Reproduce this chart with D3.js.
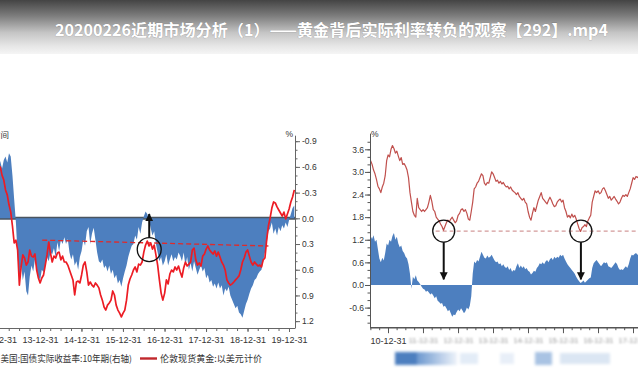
<!DOCTYPE html>
<html><head><meta charset="utf-8">
<script src="https://cdn.jsdelivr.net/npm/d3@7"></script>
<style>
html,body{margin:0;padding:0;background:#fff;}
svg{display:block;}
</style></head><body>
<svg id="c" width="638" height="377"></svg>
<script>
const titleText = "20200226近期市场分析（1）——黄金背后实际利率转负的观察【292】.mp4";

// ---------- Left chart: gold (left, hidden axis) vs US 10y real yield (right axis, inverted) ----------
const leftStart = 2012.875;           // decimal year of first sample (half-month steps)
const leftStep = 1 / 24;
const leftGold = [
1715,1700,1675,1695,1690,1655,1635,1593,1572,1530,
1500,1440,1368,1380,1338,1189,1266,1317,1304,1274,
1287,1338,1312,1308,1321,1253,1219,1198,1219,1232,
1274,1317,1372,1325,1287,1312,1304,1325,1329,1296,
1312,1287,1287,1274,1253,1232,1211,1147,1202,1206,
1198,1232,1274,1287,1245,1189,1202,1189,1181,1198,
1189,1177,1147,1125,1096,1083,1104,1113,1125,1164,
1147,1104,1083,1070,1054,1070,1083,1125,1189,1215,
1232,1253,1266,1245,1278,1274,1287,1329,1359,1376,
1355,1368,1342,1359,1317,1274,1211,1155,1125,1155,
1211,1194,1236,1253,1245,1266,1253,1270,1245,1223,
1262,1287,1270,1278,1287,1338,1346,1296,1274,1283,
1270,1312,1321,1342,1355,1338,1329,1321,1334,1312,
1329,1308,1287,1274,1253,1211,1198,1189,1194,1202,
1211,1219,1228,1253,1287,1304,1329,1338,1312,1287,
1274,1287,1278,1270,1274,1266,1296,1304,1380,1440,
1474,1516,1542,1538,1521,1508,1495,1482,1499,1470,
1491,1512,1542,1563,1593];
const leftReal = [
-0.62,-0.68,-0.6,-0.7,-0.66,-0.58,-0.68,-0.72,-0.65,-0.76,
-0.72,-0.5,-0.22,0.05,0.45,0.7,0.55,0.72,0.62,0.85,
0.9,0.68,0.55,0.62,0.48,0.6,0.68,0.72,0.6,0.63,
0.55,0.45,0.5,0.4,0.42,0.35,0.45,0.28,0.38,0.25,
0.3,0.22,0.3,0.24,0.4,0.48,0.42,0.55,0.5,0.6,
0.45,0.38,0.25,0.32,0.15,0.1,0.3,0.18,0.11,0.25,
0.4,0.5,0.52,0.48,0.58,0.55,0.62,0.55,0.65,0.6,
0.7,0.66,0.76,0.72,0.8,0.7,0.62,0.55,0.45,0.38,
0.32,0.3,0.2,0.25,0.1,0.18,0.05,-0.02,-0.08,-0.05,
0.02,0.12,0.2,0.15,0.3,0.4,0.5,0.45,0.55,0.5,
0.42,0.55,0.48,0.42,0.5,0.45,0.48,0.4,0.44,0.5,
0.4,0.55,0.45,0.6,0.52,0.62,0.5,0.58,0.66,0.6,
0.55,0.62,0.58,0.7,0.66,0.75,0.72,0.8,0.76,0.82,
0.75,0.82,0.78,0.9,0.82,0.85,0.8,0.9,0.95,1.0,
1.05,1.02,1.1,1.12,1.16,1.08,1.0,0.95,0.88,0.82,
0.78,0.72,0.7,0.65,0.62,0.6,0.5,0.4,0.3,0.15,
0.12,0.05,0.18,0.12,0.2,0.1,0.15,0.08,0.12,0.05,
0.1,0.02,-0.05,-0.12,-0.15];
const leftYears = [2012,2013,2014,2015,2016,2017,2018,2019];     // tick at each Dec 31
const leftYieldTicks = [-0.9,-0.6,-0.3,0,0.3,0.6,0.9,1.2];
const leftLegend = ["美国:国债实际收益率:10年期(右轴)", "伦敦现货黄金:以美元计价"];
const leftCornerLabel = "时间";
const leftResistance = [[2014.05,1380],[2019.5,1355]];          // dashed line (gold level)
const leftMark = {year:2016.63, gold:1340, arrowTo:-0.05};

// ---------- Right chart: US 10y nominal yield vs real yield ----------
const rightStart = 2010.5;
const rightStep = 1 / 24;
const rightNominal = [
3.3,3.2,3.05,2.95,2.8,2.62,2.55,2.45,2.6,2.7,
2.9,3.3,3.45,3.4,3.6,3.7,3.62,3.5,3.55,3.42,
3.3,3.38,3.2,3.22,3.15,3.05,2.85,2.45,2.2,1.95,
1.85,1.8,2.3,2.05,2.0,1.95,2.0,1.95,2.0,2.05,
2.2,2.38,2.22,2.0,1.95,1.8,1.75,1.7,1.62,1.55,
1.45,1.55,1.65,1.72,1.68,1.75,1.8,1.72,1.65,1.7,
1.85,1.9,2.0,2.02,1.95,2.0,1.9,1.75,1.72,1.95,
2.2,2.55,2.6,2.7,2.75,2.85,2.95,2.9,2.7,2.65,
2.72,2.7,2.85,3.0,2.95,2.85,2.75,2.78,2.7,2.75,
2.68,2.72,2.65,2.6,2.62,2.55,2.6,2.52,2.48,2.45,
2.4,2.45,2.35,2.3,2.25,2.3,2.2,2.15,1.95,1.8,
1.72,1.9,2.05,1.95,2.1,2.25,2.35,2.45,2.3,2.25,
2.2,2.15,2.25,2.33,2.25,2.15,2.08,2.1,2.2,2.25,
2.28,2.2,2.25,2.05,1.95,1.8,1.85,1.78,1.88,1.8,
1.85,1.75,1.62,1.5,1.42,1.52,1.55,1.6,1.55,1.7,
1.78,1.85,2.2,2.35,2.5,2.45,2.5,2.42,2.45,2.55,
2.58,2.5,2.4,2.3,2.35,2.25,2.3,2.35,2.28,2.22,
2.15,2.2,2.3,2.38,2.35,2.4,2.35,2.45,2.55,2.7,
2.85,2.8,2.88,2.85,2.9];
const rightReal = [
1.3,1.22,1.32,1.15,1.2,0.95,0.7,0.6,0.72,0.65,
0.85,1.1,1.05,1.2,1.15,1.3,1.38,1.2,1.28,1.1,
1.0,1.05,0.9,0.85,0.75,0.7,0.55,0.3,-0.1,0.22,
0.15,0.26,0.12,0.08,0.02,-0.05,-0.1,-0.12,-0.18,-0.15,
-0.2,-0.25,-0.22,-0.28,-0.35,-0.3,-0.42,-0.45,-0.5,-0.48,
-0.58,-0.55,-0.62,-0.7,-0.66,-0.75,-0.84,-0.78,-0.8,-0.72,
-0.65,-0.7,-0.62,-0.68,-0.75,-0.7,-0.6,-0.65,-0.55,-0.3,
0.3,0.62,0.58,0.66,0.62,0.75,0.88,0.8,0.72,0.7,
0.78,0.72,0.75,0.8,0.72,0.65,0.6,0.62,0.55,0.58,
0.5,0.55,0.48,0.45,0.5,0.4,0.45,0.35,0.4,0.38,
0.5,0.58,0.45,0.52,0.45,0.5,0.42,0.45,0.38,0.35,
0.28,0.32,0.38,0.35,0.45,0.5,0.58,0.55,0.6,0.55,
0.62,0.66,0.6,0.68,0.72,0.66,0.75,0.7,0.75,0.72,
0.8,0.76,0.8,0.7,0.62,0.55,0.5,0.45,0.4,0.35,
0.3,0.22,0.15,0.1,0.05,0.08,0.12,0.06,0.1,0.14,
0.18,0.2,0.45,0.58,0.62,0.66,0.6,0.55,0.5,0.55,
0.6,0.58,0.6,0.5,0.48,0.45,0.5,0.55,0.6,0.55,
0.45,0.4,0.42,0.4,0.45,0.5,0.45,0.55,0.7,0.8,
0.78,0.82,0.85,0.8,0.82];
const rightYears = [2010,2011,2012,2013,2014,2015,2016,2017];
const rightYieldTicks = [3.6,3.0,2.4,1.8,1.2,0.6,0.0,-0.6];
const rightFloor = {value:1.43, from:2012.36, to:2018.3};
const rightMarks = [{year:2012.59, value:1.43, arrowTo:0.15},{year:2016.51, value:1.43, arrowTo:0.15}];

// ---------- helpers ----------
const decToDate = y => { const yr = Math.floor(y); return new Date(Date.UTC(yr,0,1) + (y-yr)*365.25*864e5); };
const yearEnd = y => new Date(Date.UTC(y,11,31));
const fmt = d3.utcFormat("%y-%m-%d");
const fmtNum = d => d.toFixed(1);   // plain hyphen minus, like the reference

const BLUE = "#4d7fbf";
const svg = d3.select("#c");
const defs = svg.append("defs");
const tg = defs.append("linearGradient").attr("id","topg").attr("x1",0).attr("y1",0).attr("x2",0).attr("y2",1);
[[0,"#444"],[0.3,"#7e7e7e"],[0.6,"#c4c4c4"],[0.85,"#e6e6e6"],[1,"#f5f5f5"]]
  .forEach(([o,c]) => tg.append("stop").attr("offset",o).attr("stop-color",c));
defs.append("filter").attr("id","soft").attr("x","-10%").attr("y","-50%").attr("width","120%").attr("height","200%")
  .append("feGaussianBlur").attr("stdDeviation",0.8);
defs.append("filter").attr("id","blurL").attr("x","-10%").attr("y","-50%").attr("width","120%").attr("height","200%")
  .append("feGaussianBlur").attr("stdDeviation",1.6);
defs.append("marker").attr("id","ah").attr("viewBox","0 0 10 10").attr("refX",9).attr("refY",5)
  .attr("markerUnits","userSpaceOnUse").attr("markerWidth",8).attr("markerHeight",9).attr("orient","auto")
  .append("path").attr("d","M0,0 L10,5 L0,10 z").attr("fill","#111");
defs.append("clipPath").attr("id","clipL").append("rect").attr("x",0).attr("y",128).attr("width",295).attr("height",200);
defs.append("clipPath").attr("id","clipR").append("rect").attr("x",370).attr("y",128).attr("width",268).attr("height",200);

svg.append("rect").attr("width",638).attr("height",377).attr("fill","#fff");
svg.append("rect").attr("width",638).attr("height",54).attr("fill","url(#topg)");
svg.append("text").attr("x",55).attr("y",36).attr("textLength",553).attr("lengthAdjust","spacingAndGlyphs")
  .attr("font-family","'Noto Sans CJK SC', sans-serif").attr("font-weight","bold").attr("font-size",16)
  .attr("fill","#fff").attr("stroke","rgba(90,90,90,0.45)").attr("stroke-width",0.6).attr("paint-order","stroke")
  .text(titleText);

const AXF = "'Liberation Sans', Arial, sans-serif";
const CJK = "'Noto Sans CJK SC', sans-serif";

// ================= LEFT CHART =================
const xL = d3.scaleUtc().domain([yearEnd(2012), yearEnd(2019)]).range([-1.5, 289]);
const yL = d3.scaleLinear().domain([-0.97, 1.28]).range([135.2, 328.0]);   // inverted real-yield axis
const gL = d3.scaleLinear().domain([1000, 1800]).range([329.6, 141.2]);    // gold (hidden axis)
const leftData = leftGold.map((g,i) => ({d: decToDate(leftStart + i*leftStep), g, r: leftReal[i]}));

const gLeft = svg.append("g").attr("clip-path","url(#clipL)");
gLeft.append("line").attr("x1",0).attr("x2",295).attr("y1",yL(0)).attr("y2",yL(0))
  .attr("stroke","#4a5560").attr("stroke-width",3);
gLeft.append("path").datum(leftData)
  .attr("d", d3.area().x(d=>xL(d.d)).y0(yL(0)).y1(d=>yL(d.r)))
  .attr("fill",BLUE);
gLeft.append("path").datum(leftResistance)
  .attr("d", d3.line().x(d=>xL(decToDate(d[0]))).y(d=>gL(d[1])))
  .attr("fill","none").attr("stroke","#e02a2a").attr("stroke-width",1.3).attr("stroke-dasharray","5,3");
gLeft.append("path").datum(leftData)
  .attr("d", d3.line().x(d=>xL(d.d)).y(d=>gL(d.g)))
  .attr("fill","none").attr("stroke","#ec1c24").attr("stroke-width",1.7).attr("stroke-linejoin","round");

// annotation: circle + up arrow
{
  const cx = xL(decToDate(leftMark.year)), cy = gL(leftMark.gold), r = 12;
  svg.append("circle").attr("cx",cx).attr("cy",cy).attr("r",r).attr("fill","none").attr("stroke","#111").attr("stroke-width",1.3);
  svg.append("line").attr("x1",cx).attr("x2",cx).attr("y1",cy-r).attr("y2",yL(leftMark.arrowTo))
    .attr("stroke","#111").attr("stroke-width",2).attr("marker-end","url(#ah)");
}

// bottom axis
const axL = svg.append("g").attr("transform","translate(0,328)");
axL.call(d3.axisBottom(xL).tickValues(leftYears.map(yearEnd)).tickFormat(fmt).tickSize(4).tickSizeOuter(0))
axL.append("g").call(d3.axisBottom(xL)
   .tickValues(d3.utcMonth.every(3).range(new Date(Date.UTC(2012,9,1)), new Date(Date.UTC(2020,2,1))).map(d=>d3.utcDay.offset(d,-1)))
   .tickFormat("").tickSize(3).tickSizeOuter(0)).select(".domain").remove();
axL.selectAll("text").attr("font-family",AXF).attr("font-size",9).attr("fill","#333").attr("dy","0.9em");
axL.selectAll("line,path").attr("stroke","#666");
axL.select(".domain").attr("d","M0,0.5H295");

// right axis (real yield)
const ayL = svg.append("g").attr("transform","translate(295,0)");
ayL.call(d3.axisRight(yL).tickValues(leftYieldTicks).tickFormat(fmtNum).tickSize(5).tickSizeOuter(0));
ayL.append("g").call(d3.axisRight(yL).tickValues(d3.range(-9,13).map(v=>v/10)).tickFormat("").tickSize(2.5).tickSizeOuter(0))
   .select(".domain").remove();
ayL.selectAll("text").attr("font-family",AXF).attr("font-size",8.5).attr("fill","#333").attr("x",7);
ayL.selectAll("line,path").attr("stroke","#666");
svg.append("text").attr("x",293).attr("y",137).attr("text-anchor","end").attr("font-family",AXF).attr("font-size",8.5).attr("fill","#333").text("%");
svg.append("text").attr("x",9).attr("y",138).attr("text-anchor","end").attr("font-family",CJK).attr("font-size",8.5).attr("fill","#333").text(leftCornerLabel);

// legend
svg.append("text").attr("x",0.5).attr("y",362).attr("textLength",131.5).attr("lengthAdjust","spacingAndGlyphs")
  .attr("font-family",CJK).attr("font-size",9.2).attr("fill","#333").text(leftLegend[0]);
svg.append("line").attr("x1",140).attr("x2",157).attr("y1",358.5).attr("y2",358.5).attr("stroke","#c0282c").attr("stroke-width",2.4);
svg.append("text").attr("x",160).attr("y",362).attr("textLength",102).attr("lengthAdjust","spacingAndGlyphs")
  .attr("font-family",CJK).attr("font-size",9.2).attr("fill","#333").text(leftLegend[1]);

// ================= RIGHT CHART =================
const xR = d3.scaleUtc().domain([yearEnd(2010), yearEnd(2017)]).range([388, 633]);
const yR = d3.scaleLinear().domain([-1.12, 4.03]).range([327.2, 133.1]);
const rightData = rightNominal.map((n,i) => ({d: decToDate(rightStart + i*rightStep), n, r: rightReal[i]}));

const gRight = svg.append("g").attr("clip-path","url(#clipR)");
gRight.append("path").datum(rightData)
  .attr("d", d3.area().x(d=>xR(d.d)).y0(yR(0)).y1(d=>yR(d.r)))
  .attr("fill",BLUE);
gRight.append("line").attr("x1",xR(decToDate(rightFloor.from))).attr("x2",xR(decToDate(rightFloor.to)))
  .attr("y1",yR(rightFloor.value)).attr("y2",yR(rightFloor.value))
  .attr("stroke","#d39a9a").attr("stroke-width",1.1).attr("stroke-dasharray","4,3");
gRight.append("path").datum(rightData)
  .attr("d", d3.line().x(d=>xR(d.d)).y(d=>yR(d.n)))
  .attr("fill","none").attr("stroke","#c0504d").attr("stroke-width",1.2).attr("stroke-linejoin","round");

rightMarks.forEach(m => {
  const cx = xR(decToDate(m.year)), cy = yR(m.value), r = 11;
  svg.append("circle").attr("cx",cx).attr("cy",cy).attr("r",r).attr("fill","none").attr("stroke","#111").attr("stroke-width",1.3);
  svg.append("line").attr("x1",cx).attr("x2",cx).attr("y1",cy+r).attr("y2",yR(m.arrowTo))
    .attr("stroke","#111").attr("stroke-width",2).attr("marker-end","url(#ah)");
});

// left axis
const ayR = svg.append("g").attr("transform","translate(370,0)");
ayR.call(d3.axisLeft(yR).tickValues(rightYieldTicks).tickFormat(fmtNum).tickSize(5).tickSizeOuter(0));
ayR.append("g").call(d3.axisLeft(yR).tickValues(d3.range(-5,20).map(v=>v/5)).tickFormat("").tickSize(2.5).tickSizeOuter(0))
   .select(".domain").remove();
ayR.selectAll("text").attr("font-family",AXF).attr("font-size",8.5).attr("fill","#333").attr("x",-6);
ayR.selectAll("line,path").attr("stroke","#555");
svg.append("text").attr("x",371).attr("y",137).attr("font-family",AXF).attr("font-size",8.5).attr("fill","#333").text("%");

// bottom axis
const axR = svg.append("g").attr("transform","translate(0,327.2)");
axR.call(d3.axisBottom(xR).tickValues(rightYears.map(yearEnd)).tickFormat(fmt).tickSize(6).tickSizeOuter(0));
axR.append("g").call(d3.axisBottom(xR)
   .tickValues(d3.utcMonth.every(3).range(new Date(Date.UTC(2010,6,1)), new Date(Date.UTC(2018,3,1))).map(d=>d3.utcDay.offset(d,-1)))
   .tickFormat("").tickSize(3).tickSizeOuter(0)).select(".domain").remove();
axR.select(".domain").attr("d","M370,0.5H638").attr("stroke-width",1.5);
axR.selectAll("line,path").attr("stroke","#555");
const rLabels = axR.selectAll(".tick text");
const nR = rLabels.size();
rLabels.attr("font-family",AXF).attr("font-size",9).attr("fill","#333").attr("dy","0.9em")
  .each(function(d,i){
    if(i>0) d3.select(this).attr("font-size",7.5).attr("fill","#999").attr("filter","url(#soft)");
    if(i===nR-1) d3.select(this).attr("text-anchor","end").attr("x",0);
  });

// blurred legend strip (right chart)
const lg = svg.append("g").attr("filter","url(#blurL)");
const lgr = defs.append("linearGradient").attr("id","lgr");
[[0,"#6d98cf"],[1,"#eef3fa"]].forEach(([o,c])=>lgr.append("stop").attr("offset",o).attr("stop-color",c));
lg.append("rect").attr("x",395).attr("y",352).attr("width",22).attr("height",13).attr("fill",BLUE);
lg.append("rect").attr("x",417).attr("y",352).attr("width",40).attr("height",13).attr("fill","url(#lgr)");
lg.append("rect").attr("x",460).attr("y",353).attr("width",18).attr("height",11).attr("fill","#e3ecf7");
lg.append("rect").attr("x",500).attr("y",353).attr("width",14).attr("height",11).attr("fill","#e8eff8");
lg.append("rect").attr("x",535).attr("y",352).attr("width",17).attr("height",13).attr("fill","#a9c3e3");
lg.append("rect").attr("x",560).attr("y",353).attr("width",50).attr("height",11).attr("fill","#dbe6f3");
</script>
</body></html>
